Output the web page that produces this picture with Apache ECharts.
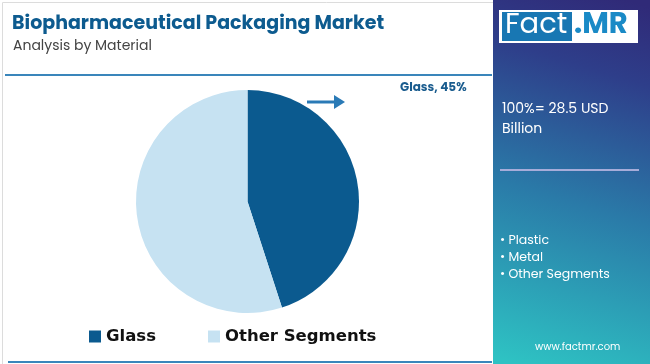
<!DOCTYPE html>
<html>
<head>
<meta charset="utf-8">
<script src="https://cdn.jsdelivr.net/npm/echarts@6/dist/echarts.min.js"></script>
<style>
html,body{margin:0;padding:0;background:#fff;}
#c{width:650px;height:364px;}
</style>
</head>
<body>
<div id="c"></div>
<script>
const categories = ["Glass", "Other Segments"];
const shares = [45, 55];
const colors = ["#0b5a8f", "#c6e2f2"];
const segmentsList = ["Plastic", "Metal", "Other Segments"];
const totalText = ["100%= 28.5 USD", "Billion"];

const chart = echarts.init(document.getElementById('c'), null, {renderer: 'canvas'});
const font = 'Poppins, "Inter", "Noto Sans", sans-serif';

const bulletGraphics = segmentsList.map((s, i) => ({
  type: 'text', left: 500, top: 234 + i * 17,
  style: {text: '• ' + s, fill: '#ffffff', font: '12.5px ' + font}
}));

chart.setOption({
  animation: false,
  title: [
    {text: 'Biopharmaceutical Packaging Market', left: 12, top: 15, padding: 0,
     textStyle: {color: '#0d5b8f', fontSize: 19, fontWeight: 'bold', fontFamily: font}},
    {text: 'Analysis by Material', left: 13, top: 39, padding: 0,
     textStyle: {color: '#444', fontSize: 14, fontWeight: 'normal', fontFamily: font}}
  ],
  legend: {
    data: categories, bottom: 14, left: 84, itemGap: 52,
    itemWidth: 12, itemHeight: 12, icon: 'rect',
    textStyle: {color: '#111', fontSize: 16.5, fontWeight: 'bold', fontFamily: '"DejaVu Sans", sans-serif'}
  },
  series: [{
    type: 'pie', center: [247.5, 201.5], radius: 111.5,
    startAngle: 90, clockwise: true,
    data: categories.map((c, i) => ({
      name: c, value: shares[i], itemStyle: {color: colors[i]},
      label: i === 0 ? {show: true} : {show: false}
    })),
    label: {
      formatter: '{b}, {c}%', color: '#1a5c8e', fontWeight: 'bold',
      fontSize: 12, fontFamily: font
    },
    labelLine: {show: false},
    labelLayout: function (p) {
      return {x: 400, y: 88, align: 'left', verticalAlign: 'middle'};
    },
    emphasis: {disabled: true}
  }],
  graphic: [
    {type: 'rect', left: 0, top: 0, shape: {x: 0.5, y: 0.5, width: 649, height: 363},
     style: {fill: 'none', stroke: '#dcdcdc', lineWidth: 1}, z: -1},
    {type: 'line', shape: {x1: 5, y1: 75, x2: 492, y2: 75},
     style: {stroke: '#3a86bb', lineWidth: 2}},
    {type: 'line', shape: {x1: 8, y1: 362, x2: 492, y2: 362},
     style: {stroke: '#3a86bb', lineWidth: 2}},
    {type: 'rect', shape: {x: 493, y: 0, width: 157, height: 364},
     style: {fill: new echarts.graphic.LinearGradient(0.15, 1, 0.85, 0, [
       {offset: 0, color: '#2ec2c3'},
       {offset: 0.45, color: '#2a7aa8'},
       {offset: 0.8, color: '#2e3e8a'},
       {offset: 1, color: '#302a78'}
     ])}},
    {type: 'rect', shape: {x: 499, y: 10, width: 139, height: 33},
     style: {fill: '#ffffff'}},
    {type: 'rect', shape: {x: 502, y: 12, width: 70, height: 29},
     style: {fill: '#1877b3'}},
    {type: 'text', left: 505, top: 11,
     style: {text: 'Fact', fill: '#ffffff', font: '29px ' + font}},
    {type: 'text', left: 574, top: 11,
     style: {text: '.MR', fill: '#1a8ac6', font: 'bold 29px ' + font}},
    {type: 'text', left: 502, top: 102,
     style: {text: totalText[0], fill: '#ffffff', font: '14px ' + font}},
    {type: 'text', left: 502, top: 122,
     style: {text: totalText[1], fill: '#ffffff', font: '14px ' + font}},
    {type: 'line', shape: {x1: 500, y1: 170, x2: 639, y2: 170},
     style: {stroke: '#a6acd9', lineWidth: 2}},
    ...bulletGraphics,
    {type: 'text', left: 535, top: 342,
     style: {text: 'www.factmr.com', fill: '#ffffff', font: '10px ' + font}},
    {type: 'line', shape: {x1: 307, y1: 102, x2: 336, y2: 102},
     style: {stroke: '#2a7ab6', lineWidth: 3}},
    {type: 'polygon', shape: {points: [[334, 95], [345, 102], [334, 109]]},
     style: {fill: '#2a7ab6'}}
  ]
});
</script>
</body>
</html>
